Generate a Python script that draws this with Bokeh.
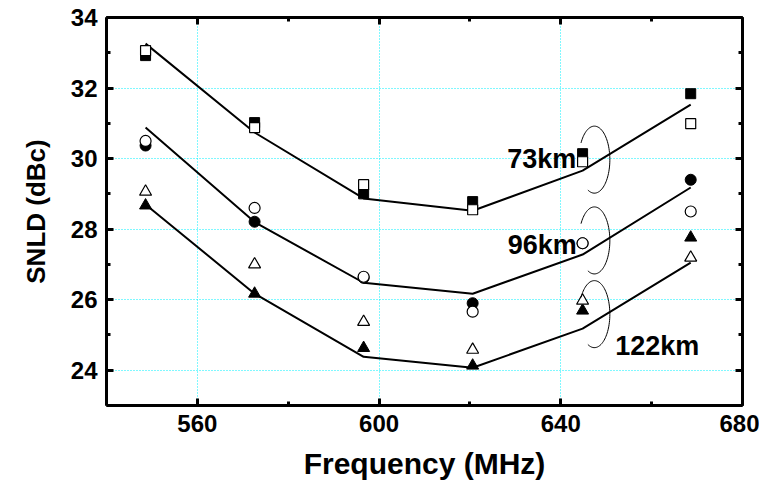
import numpy as np
from bokeh.plotting import figure
from bokeh.models import LinearAxis, SingleIntervalTicker, Range1d, CustomJSTickFormatter, Title
from bokeh.core.properties import value
from bokeh.embed import file_html
from bokeh.resources import INLINE

# ---- data ----
freq = [548.6, 572.6, 596.6, 620.6, 644.8, 668.6]

km73_filled = [32.92, 31.02, 29.00, 28.78, 30.14, 31.84]
km73_open = [33.06, 30.88, 29.26, 28.55, 29.91, 30.99]
km73_line = [33.26, 30.74, 28.87, 28.52, 29.66, 31.53]

km96_filled = [30.37, 28.21, 26.62, 25.90, 27.60, 29.40]
km96_open = [30.50, 28.60, 26.65, 25.66, 27.60, 28.50]
km96_line = [30.88, 28.20, 26.48, 26.17, 27.28, 29.18]

km122_filled = [28.67, 26.17, 24.63, 24.13, 25.69, 27.76]
km122_open = [29.06, 27.00, 25.37, 24.58, 25.97, 27.19]
km122_line = [28.70, 26.17, 24.38, 24.07, 25.18, 27.05]

labels = ["73km", "96km", "122km"]
label_x = [628.2, 628.3, 652.0]
label_y = [30.0, 27.54, 24.70]

ellipse_cx = 647.4
ellipse_cy = [29.97, 27.68, 25.59]
ellipse_rx = 3.4
ellipse_ry = 0.95

FONT = "Liberation Sans"

p = figure(frame_width=636, frame_height=388,
           x_range=Range1d(540, 680), y_range=Range1d(23, 34),
           output_backend="svg", toolbar_location=None,
           min_border_left=106, min_border_right=17,
           min_border_top=17, min_border_bottom=71)
p.outline_line_color = None
p.background_fill_color = "white"

xt = SingleIntervalTicker(interval=40, num_minor_ticks=2)
yt = SingleIntervalTicker(interval=2, num_minor_ticks=2)


def style_axis(ax, show_labels=True):
    ax.axis_line_width = 3
    ax.axis_line_color = "black"
    ax.major_tick_in = 7
    ax.major_tick_out = 0
    ax.minor_tick_in = 4
    ax.minor_tick_out = 0
    ax.major_tick_line_width = 3
    ax.minor_tick_line_width = 3
    ax.major_tick_line_color = "black"
    ax.minor_tick_line_color = "black"
    if show_labels:
        ax.major_label_text_font = FONT
        ax.major_label_text_font_style = "bold"
        ax.major_label_text_font_size = "24px"
        ax.major_label_text_color = "black"
    else:
        ax.formatter = CustomJSTickFormatter(code="return ''")
        ax.major_label_standoff = 0


p.xaxis[0].ticker = xt
p.yaxis[0].ticker = yt
style_axis(p.xaxis[0])
style_axis(p.yaxis[0])
p.xaxis[0].major_label_standoff = 9
p.yaxis[0].major_label_standoff = 9
p.xaxis[0].axis_label = "Frequency (MHz)"
ax = p.xaxis[0]
ax.axis_label_text_font = FONT
ax.axis_label_text_font_style = "bold"
ax.axis_label_text_font_size = "30px"
ax.axis_label_text_color = "black"
ax.axis_label_standoff = 12

# y axis title as a left-side title, shifted a little above the frame centre
ytitle = Title(text="SNLD (dBc)", align="center", offset=24,
               text_font=FONT, text_font_style="bold", text_font_size="26px",
               text_color="black")
if "standoff" in Title.properties():
    ytitle.standoff = 34
p.add_layout(ytitle, "left")

top_ax = LinearAxis(ticker=xt)
right_ax = LinearAxis(ticker=yt)
style_axis(top_ax, False)
style_axis(right_ax, False)
p.add_layout(top_ax, "above")
p.add_layout(right_ax, "right")

p.xgrid.ticker = xt
p.ygrid.ticker = yt
for g in (p.xgrid, p.ygrid):
    g.grid_line_color = "#00F0FF"
    g.grid_line_dash = "1 2"
    g.grid_line_width = 1

# lines
for ys in (km73_line, km96_line, km122_line):
    p.line(freq, ys, line_color="black", line_width=2)

# filled markers
p.scatter(freq, km73_filled, marker="square", size=10, fill_color="black", line_color="black")
p.scatter(freq, km96_filled, marker="circle", size=11, fill_color="black", line_color="black")
p.scatter(freq, km122_filled, marker="triangle", size=12, fill_color="black", line_color="black")
# open markers
p.scatter(freq, km73_open, marker="square", size=10, fill_color="white", line_color="black", line_width=1.2)
p.scatter(freq, km96_open, marker="circle", size=11, fill_color="white", line_color="black", line_width=1.2)
p.scatter(freq, km122_open, marker="triangle", size=12, fill_color="white", line_color="black", line_width=1.2)

# ellipse arcs
theta = np.radians(np.linspace(150, -115, 80))
for cy in ellipse_cy:
    p.line(ellipse_cx + ellipse_rx * np.cos(theta), cy + ellipse_ry * np.sin(theta),
           line_color="black", line_width=1)

p.text(x=label_x, y=label_y, text=labels, text_font=value(FONT),
       text_font_style="bold", text_font_size="27px", text_color="black",
       text_baseline="alphabetic", text_align="left")

open("out.html", "w").write(file_html(p, INLINE))
